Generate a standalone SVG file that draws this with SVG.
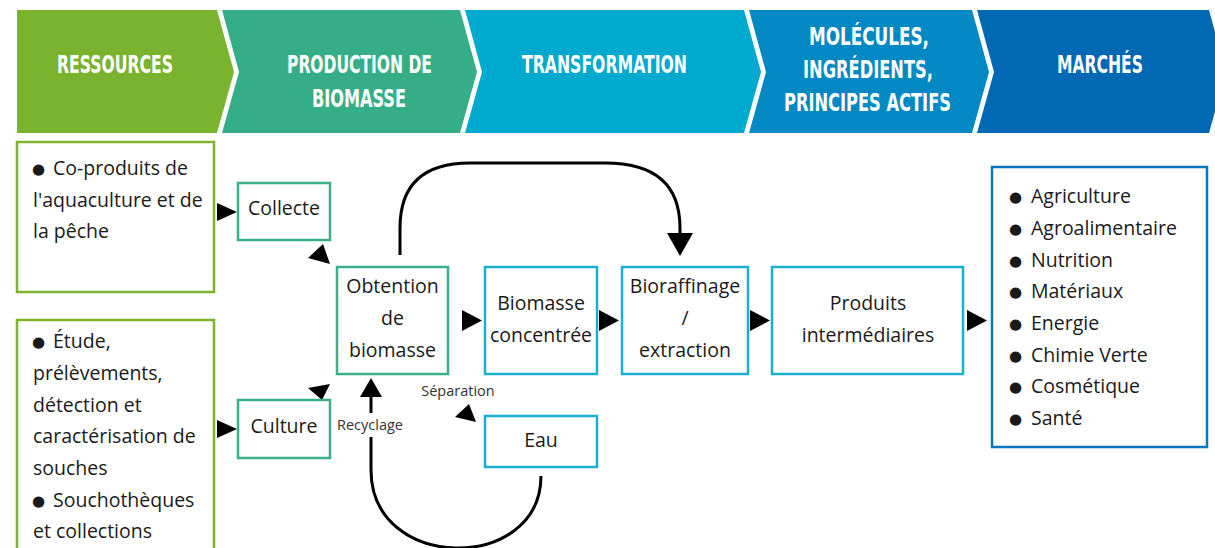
<svg xmlns="http://www.w3.org/2000/svg" width="1215" height="548" viewBox="0 0 1215 548">
<style>
.hd{font-family:"Liberation Sans Narrow","DejaVu Sans Condensed","Liberation Sans",sans-serif;font-weight:bold;font-size:25px;fill:#fff;text-anchor:middle}
.tx{font-family:"Open Sans","Noto Sans","DejaVu Sans",sans-serif;font-size:19.5px;fill:#1a1a1a}
.c{text-anchor:middle}
.sm{font-family:"Open Sans","Noto Sans","DejaVu Sans",sans-serif;font-size:14.5px;fill:#333;text-anchor:middle}
.bl{font-family:"DejaVu Sans",sans-serif;font-size:15px}
.g{fill:#fff;stroke:#7DB32F;stroke-width:2.5}
.t{fill:#fff;stroke:#3BAF8A;stroke-width:2.5}
.cy{fill:#fff;stroke:#1AAED3;stroke-width:2.5}
.b{fill:#fff;stroke:#0B77C2;stroke-width:2.5}
.ln{fill:none;stroke:#000;stroke-width:3}
.ah{fill:#000}
</style>
<g id="header">
<g id="h-ressources"><polygon points="17,10 217,10 234,72 217,133 17,133" fill="#7AB32E"/><text class="hd" x="115" y="73" textLength="116" lengthAdjust="spacingAndGlyphs">RESSOURCES</text></g>
<g id="h-production"><polygon points="222,10 460,10 477,72 460,133 222,133 239,72" fill="#35AE88"/><text class="hd" x="359.5" y="73" textLength="145" lengthAdjust="spacingAndGlyphs">PRODUCTION DE</text><text class="hd" x="359" y="107" textLength="94" lengthAdjust="spacingAndGlyphs">BIOMASSE</text></g>
<g id="h-transformation"><polygon points="465,10 744,10 761,72 744,133 465,133 482,72" fill="#00AACE"/><text class="hd" x="604.5" y="73" textLength="165" lengthAdjust="spacingAndGlyphs">TRANSFORMATION</text></g>
<g id="h-molecules"><polygon points="749,10 972,10 989,72 972,133 749,133 766,72" fill="#0289C3"/><text class="hd" x="869" y="45" textLength="120" lengthAdjust="spacingAndGlyphs">MOLÉCULES,</text><text class="hd" x="868" y="78" textLength="130" lengthAdjust="spacingAndGlyphs">INGRÉDIENTS,</text><text class="hd" x="867.5" y="111" textLength="167" lengthAdjust="spacingAndGlyphs">PRINCIPES ACTIFS</text></g>
<g id="h-marches"><polygon points="977,10 1209,10 1226,72 1209,133 977,133 994,72" fill="#0168B3"/><text class="hd" x="1100" y="73" textLength="86" lengthAdjust="spacingAndGlyphs">MARCHÉS</text></g>
</g>
<g id="connectors">
<path class="ln" d="M400,255 L400,228 Q400,163 470,163 L605,163 Q680,163 680,228 L680,236"/>
<polygon class="ah" points="667,233 693,233 680,256"/>
<path class="ln" d="M541,476 C541,573 371,573 371,470 L371,437"/>
<path class="ln" d="M371,413 L371,396"/>
<polygon class="ah" points="360,397 382,397 371,378"/>
<polygon class="ah" points="217,203 237,212 217,221"/>
<polygon class="ah" points="217,420 237,429 217,438"/>
<polygon class="ah" points="308,258 323,244 330,264"/>
<polygon class="ah" points="308,388 330,384 322,400"/>
<polygon class="ah" points="469,404 455,417 476,422"/>
<polygon class="ah" points="462,310 482,320.5 462,331"/>
<polygon class="ah" points="599,310 619,320.5 599,331"/>
<polygon class="ah" points="750,310 770,320.5 750,331"/>
<polygon class="ah" points="967,310 987,320.5 967,331"/>
<text class="sm" x="458" y="396">Séparation</text>
<text class="sm" x="370" y="430">Recyclage</text>
</g>
<g id="coproduits">
<rect class="g" x="17" y="142" width="197" height="150"/>
<text class="tx"><tspan class="bl" x="32" y="174">●</tspan><tspan x="53" y="175">Co-produits de</tspan><tspan x="33" y="207">l'aquaculture et de</tspan><tspan x="33" y="238">la pêche</tspan></text>
</g>
<g id="souches">
<rect class="g" x="17" y="320" width="197" height="245"/>
<text class="tx"><tspan class="bl" x="32" y="347">●</tspan><tspan x="53" y="348">Étude,</tspan><tspan x="33" y="380">prélèvements,</tspan><tspan x="33" y="412">détection et</tspan><tspan x="33" y="443">caractérisation de</tspan><tspan x="33" y="475">souches</tspan><tspan class="bl" x="32" y="506">●</tspan><tspan x="53" y="507">Souchothèques</tspan><tspan x="33" y="538">et collections</tspan></text>
</g>
<g id="collecte"><rect class="t" x="238" y="183" width="92" height="57"/><text class="tx c" x="284" y="215">Collecte</text></g>
<g id="culture"><rect class="t" x="238" y="400" width="92" height="58"/><text class="tx c" x="284" y="433">Culture</text></g>
<g id="obtention"><rect class="t" x="337" y="267" width="111" height="107"/><text class="tx c"><tspan x="392.5" y="293">Obtention</tspan><tspan x="392.5" y="325">de</tspan><tspan x="392.5" y="357">biomasse</tspan></text></g>
<g id="biomasse"><rect class="cy" x="485" y="267" width="112" height="107"/><text class="tx c"><tspan x="541" y="310">Biomasse</tspan><tspan x="541" y="342">concentrée</tspan></text></g>
<g id="bioraffinage"><rect class="cy" x="622" y="267" width="126" height="107"/><text class="tx c"><tspan x="685" y="293">Bioraffinage</tspan><tspan x="685" y="325">/</tspan><tspan x="685" y="357">extraction</tspan></text></g>
<g id="eau"><rect class="cy" x="485" y="416" width="112" height="51"/><text class="tx c" x="541" y="447">Eau</text></g>
<g id="produits"><rect class="cy" x="772" y="267" width="191" height="107"/><text class="tx c"><tspan x="868" y="310">Produits</tspan><tspan x="868" y="342">intermédiaires</tspan></text></g>
<g id="marches">
<rect class="b" x="992" y="167" width="215" height="280"/>
<text class="tx"><tspan class="bl" x="1009" y="202">●</tspan><tspan x="1031" y="203">Agriculture</tspan><tspan class="bl" x="1009" y="234">●</tspan><tspan x="1031" y="235">Agroalimentaire</tspan><tspan class="bl" x="1009" y="266">●</tspan><tspan x="1031" y="267">Nutrition</tspan><tspan class="bl" x="1009" y="297">●</tspan><tspan x="1031" y="298">Matériaux</tspan><tspan class="bl" x="1009" y="329">●</tspan><tspan x="1031" y="330">Energie</tspan><tspan class="bl" x="1009" y="361">●</tspan><tspan x="1031" y="362">Chimie Verte</tspan><tspan class="bl" x="1009" y="392">●</tspan><tspan x="1031" y="393">Cosmétique</tspan><tspan class="bl" x="1009" y="424">●</tspan><tspan x="1031" y="425">Santé</tspan></text>
</g>
</svg>
